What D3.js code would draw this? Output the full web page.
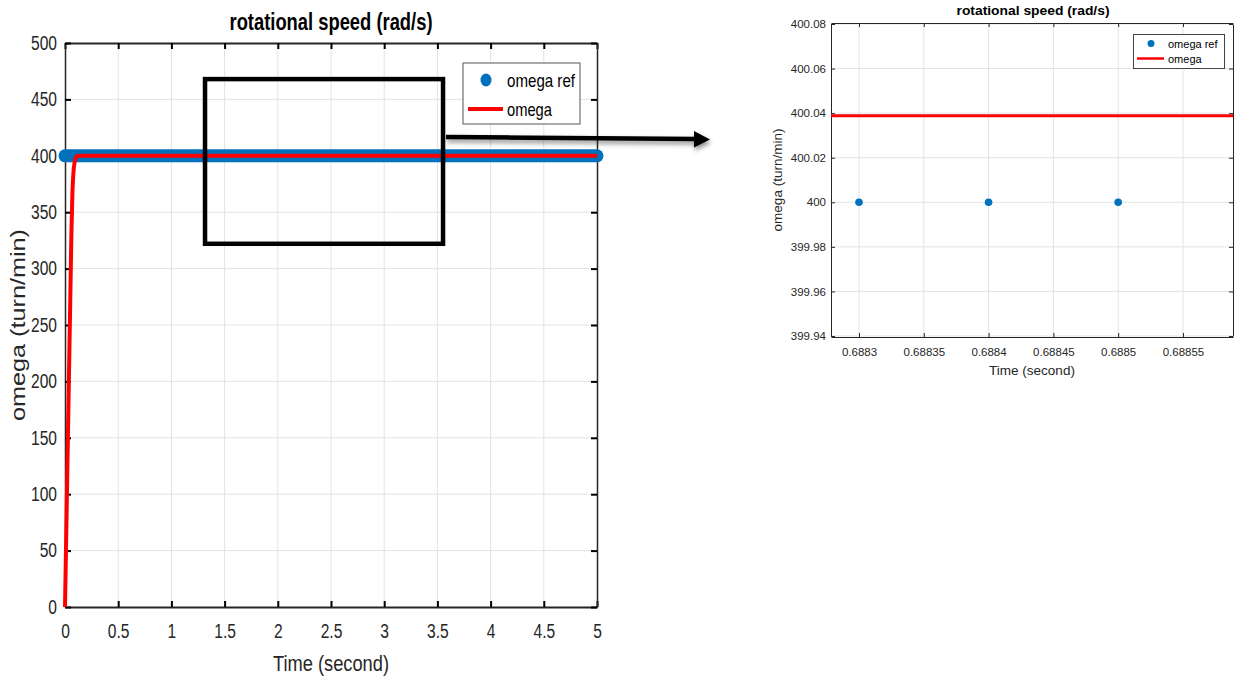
<!DOCTYPE html>
<html>
<head>
<meta charset="utf-8">
<script src="https://cdn.jsdelivr.net/npm/d3@7"></script>
<style>
  body { margin: 0; background: #fff; }
  svg { display: block; }
  .narrow { font-family: 'Liberation Sans Narrow', 'Arial Narrow', 'Liberation Sans', Arial, sans-serif; }
  .reg { font-family: 'Liberation Sans', Arial, sans-serif; }
</style>
</head>
<body>
<svg id="chart" width="1240" height="681"></svg>
<script>
// full run (0 .. 5 s)
const refT = [0, 5];
const refOmega = [400, 400];
const respT = [0, 0.01, 0.02, 0.03, 0.04, 0.05, 0.06, 0.07, 0.08, 0.09, 0.1, 0.11, 0.13, 0.16, 0.2, 5];
const respOmega = [0, 55, 110, 165, 220, 275, 330, 368, 386, 394, 398, 399.5, 400, 400, 400, 400];
const xTicks = [0, 0.5, 1, 1.5, 2, 2.5, 3, 3.5, 4, 4.5, 5];
const yTicks = [0, 50, 100, 150, 200, 250, 300, 350, 400, 450, 500];

// zoomed view
const zoomRefT = [0.6883, 0.6884, 0.6885];
const zoomRefOmega = [400, 400, 400];
const zoomT = [0.68827, 0.6886];
const zoomOmega = [400.0388, 400.0388];
const zxTicks = [0.6883, 0.68835, 0.6884, 0.68845, 0.6885, 0.68855];
const zyTicks = [399.94, 399.96, 399.98, 400, 400.02, 400.04, 400.06, 400.08];

// zoom box on the big plot (data units)
const boxT = [1.316, 3.553];
const boxOmega = [322, 468];

const blue = '#0072BD', red = '#FF0000', axisCol = '#262626', gridCol = '#e3e3e3';

const svg = d3.select('#chart');

const defs = svg.append('defs');
defs.append('filter').attr('id', 'shadow')
  .attr('x', '-10%').attr('y', '-100%').attr('width', '120%').attr('height', '400%')
  .append('feDropShadow')
  .attr('dx', 1).attr('dy', 3).attr('stdDeviation', 2.5)
  .attr('flood-color', '#000').attr('flood-opacity', 0.45);
defs.append('clipPath').attr('id', 'zclip')
  .append('rect').attr('x', 831).attr('y', 23).attr('width', 402).attr('height', 314);

/* ---------- left chart ---------- */
const x = d3.scaleLinear().domain([0, 5]).range([65, 597]);
const y = d3.scaleLinear().domain([0, 500]).range([607, 43]);

const left = svg.append('g');

// grid
left.append('g').selectAll('line').data(xTicks.slice(1, -1)).enter().append('line')
  .attr('x1', d => x(d)).attr('x2', d => x(d))
  .attr('y1', y(0)).attr('y2', y(500))
  .attr('stroke', gridCol).attr('stroke-width', 1);
left.append('g').selectAll('line').data(yTicks.slice(1, -1)).enter().append('line')
  .attr('x1', x(0)).attr('x2', x(5))
  .attr('y1', d => y(d)).attr('y2', d => y(d))
  .attr('stroke', gridCol).attr('stroke-width', 1);

// axes (inner ticks)
left.append('g').attr('transform', `translate(0,${y(0)})`)
  .call(d3.axisBottom(x).tickValues(xTicks).tickSizeInner(-6).tickSizeOuter(0).tickPadding(17).tickFormat(d3.format('')))
  .call(g => g.select('.domain').attr('stroke', axisCol).attr('stroke-width', 2));
left.append('g').attr('transform', `translate(0,${y(500)})`)
  .call(d3.axisTop(x).tickValues(xTicks).tickSizeInner(-6).tickSizeOuter(0).tickFormat(''))
  .call(g => g.select('.domain').attr('stroke', axisCol).attr('stroke-width', 2));
left.append('g').attr('transform', `translate(${x(0)},0)`)
  .call(d3.axisLeft(y).tickValues(yTicks).tickSizeInner(-6).tickSizeOuter(0).tickPadding(10).tickFormat(d3.format('')))
  .call(g => g.select('.domain').attr('stroke', axisCol).attr('stroke-width', 1.5));
left.append('g').attr('transform', `translate(${x(5)},0)`)
  .call(d3.axisRight(y).tickValues(yTicks).tickSizeInner(-6).tickSizeOuter(0).tickFormat(''))
  .call(g => g.select('.domain').attr('stroke', axisCol).attr('stroke-width', 1.5));
left.selectAll('.tick line').attr('stroke', '#000').attr('stroke-width', 2);
// condensed look of the original figure
left.selectAll('.tick text').attr('class', 'reg').attr('font-size', 19.5).attr('fill', '#262626')
  .attr('transform', 'scale(0.8,1)');

// series
const refLine = d3.line().x((d, i) => x(refT[i])).y(d => y(d));
left.append('path').datum(refOmega).attr('d', refLine)
  .attr('fill', 'none').attr('stroke', blue).attr('stroke-width', 13).attr('stroke-linecap', 'round');
const respLine = d3.line().x((d, i) => x(respT[i])).y(d => y(d)).curve(d3.curveMonotoneX);
left.append('path').datum(respOmega).attr('d', respLine)
  .attr('fill', 'none').attr('stroke', red).attr('stroke-width', 4);

// zoom box
left.append('rect')
  .attr('x', x(boxT[0])).attr('y', y(boxOmega[1]))
  .attr('width', x(boxT[1]) - x(boxT[0])).attr('height', y(boxOmega[0]) - y(boxOmega[1]))
  .attr('fill', 'none').attr('stroke', '#000').attr('stroke-width', 4.5);

// legend
const lg = left.append('g');
lg.append('rect').attr('x', 463).attr('y', 63).attr('width', 117).attr('height', 61)
  .attr('fill', '#fff').attr('stroke', '#555').attr('stroke-width', 1);
lg.append('ellipse').attr('cx', 486).attr('cy', 80).attr('rx', 5.5).attr('ry', 6.5).attr('fill', blue);
lg.append('line').attr('x1', 468).attr('x2', 503).attr('y1', 109).attr('y2', 109)
  .attr('stroke', red).attr('stroke-width', 4);
lg.append('text').attr('class', 'narrow').attr('x', 507).attr('y', 87).attr('font-size', 19)
  .attr('fill', '#000').attr('textLength', 68).attr('lengthAdjust', 'spacingAndGlyphs').text('omega ref');
lg.append('text').attr('class', 'narrow').attr('x', 507).attr('y', 116).attr('font-size', 19)
  .attr('fill', '#000').attr('textLength', 45).attr('lengthAdjust', 'spacingAndGlyphs').text('omega');

// labels
left.append('text').attr('class', 'narrow').attr('x', 331).attr('y', 30)
  .attr('text-anchor', 'middle').attr('font-size', 23).attr('font-weight', 'bold').attr('fill', '#000')
  .attr('textLength', 203).attr('lengthAdjust', 'spacingAndGlyphs')
  .text('rotational speed (rad/s)');
left.append('text').attr('class', 'narrow').attr('x', 331).attr('y', 671)
  .attr('text-anchor', 'middle').attr('font-size', 22).attr('fill', '#262626')
  .attr('textLength', 116).attr('lengthAdjust', 'spacingAndGlyphs')
  .text('Time (second)');
left.append('text').attr('class', 'reg')
  .attr('transform', 'translate(25,325) rotate(-90)')
  .attr('text-anchor', 'middle').attr('font-size', 20).attr('fill', '#262626')
  .attr('textLength', 192).attr('lengthAdjust', 'spacingAndGlyphs')
  .text('omega (turn/min)');

// arrow
const arrow = svg.append('g').attr('filter', 'url(#shadow)');
arrow.append('line').attr('x1', 446).attr('y1', 137).attr('x2', 697).attr('y2', 139)
  .attr('stroke', '#000').attr('stroke-width', 4.5);
arrow.append('path').attr('d', 'M694,131 L710,139.5 L694,147.5 Z').attr('fill', '#000');

/* ---------- right (zoomed) chart ---------- */
const zx = d3.scaleLinear().domain([0.6882784, 0.6885886]).range([831, 1233]);
const zy = d3.scaleLinear().domain([399.94, 400.08]).range([336, 24]);

const right = svg.append('g');

right.append('g').selectAll('line').data(zxTicks).enter().append('line')
  .attr('x1', d => zx(d)).attr('x2', d => zx(d)).attr('y1', 23).attr('y2', 337)
  .attr('stroke', gridCol).attr('stroke-width', 1);
right.append('g').selectAll('line').data(zyTicks).enter().append('line')
  .attr('x1', 831).attr('x2', 1233).attr('y1', d => zy(d)).attr('y2', d => zy(d))
  .attr('stroke', gridCol).attr('stroke-width', 1);

right.append('g').attr('transform', 'translate(0,337)')
  .call(d3.axisBottom(zx).tickValues(zxTicks).tickSizeInner(-4).tickSizeOuter(0).tickPadding(11).tickFormat(d3.format('')));
right.append('g').attr('transform', 'translate(0,23)')
  .call(d3.axisTop(zx).tickValues(zxTicks).tickSizeInner(-4).tickSizeOuter(0).tickFormat(''));
right.append('g').attr('transform', 'translate(831,0)')
  .call(d3.axisLeft(zy).tickValues(zyTicks).tickSizeInner(-4).tickSizeOuter(0).tickPadding(5).tickFormat(d3.format('')));
right.append('g').attr('transform', 'translate(1233,0)')
  .call(d3.axisRight(zy).tickValues(zyTicks).tickSizeInner(-4).tickSizeOuter(0).tickFormat(''));
right.selectAll('.domain').attr('stroke', axisCol).attr('stroke-width', 1);
right.selectAll('.tick line').attr('stroke', axisCol);
right.selectAll('.tick text').attr('class', 'reg').attr('font-size', 11.5).attr('fill', '#262626');

const plot = right.append('g').attr('clip-path', 'url(#zclip)');
const zLine = d3.line().x((d, i) => zx(zoomT[i])).y(d => zy(d));
plot.append('path').datum(zoomOmega).attr('d', zLine)
  .attr('fill', 'none').attr('stroke', red).attr('stroke-width', 3);
plot.selectAll('circle').data(zoomRefOmega).enter().append('circle')
  .attr('cx', (d, i) => zx(zoomRefT[i])).attr('cy', d => zy(d)).attr('r', 3.8).attr('fill', blue);

// legend
const zl = right.append('g');
zl.append('rect').attr('x', 1133.5).attr('y', 34.5).attr('width', 91).attr('height', 34)
  .attr('fill', '#fff').attr('stroke', '#444').attr('stroke-width', 1);
zl.append('circle').attr('cx', 1151).attr('cy', 43.5).attr('r', 3.5).attr('fill', blue);
zl.append('line').attr('x1', 1137).attr('x2', 1164).attr('y1', 58.5).attr('y2', 58.5)
  .attr('stroke', red).attr('stroke-width', 2.5);
zl.append('text').attr('class', 'reg').attr('x', 1168).attr('y', 47.5).attr('font-size', 11)
  .attr('fill', '#000').text('omega ref');
zl.append('text').attr('class', 'reg').attr('x', 1168).attr('y', 62.5).attr('font-size', 11)
  .attr('fill', '#000').text('omega');

right.append('text').attr('class', 'reg').attr('x', 1033).attr('y', 15)
  .attr('text-anchor', 'middle').attr('font-size', 13).attr('font-weight', 'bold').attr('fill', '#000')
  .attr('textLength', 153).attr('lengthAdjust', 'spacingAndGlyphs')
  .text('rotational speed (rad/s)');
right.append('text').attr('class', 'reg').attr('x', 1032).attr('y', 375)
  .attr('text-anchor', 'middle').attr('font-size', 13.5).attr('fill', '#262626')
  .text('Time (second)');
right.append('text').attr('class', 'reg')
  .attr('transform', 'translate(782,180) rotate(-90)')
  .attr('text-anchor', 'middle').attr('font-size', 13.5).attr('fill', '#262626')
  .text('omega (turn/min)');
</script>
</body>
</html>
